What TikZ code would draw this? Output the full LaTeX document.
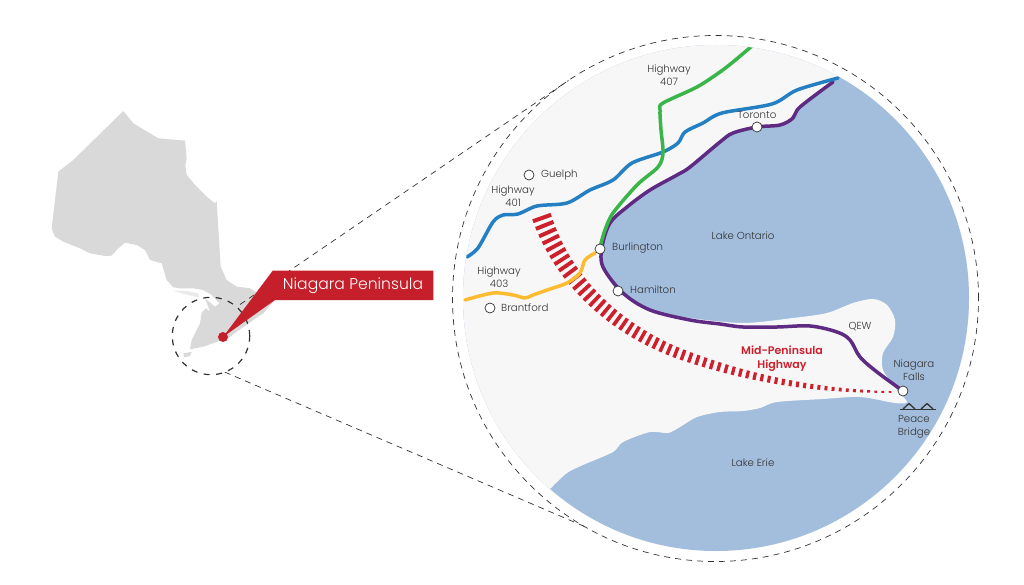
\documentclass[tikz,border=0pt]{standalone}
\usepackage{fontspec}
\setmainfont{Poppins}[UprightFont=* Light,BoldFont=* SemiBold]
\usetikzlibrary{calc}
\definecolor{mapgray}{HTML}{D9D9D9}
\definecolor{maplight}{HTML}{EAEAEA}
\definecolor{lake}{HTML}{A3BEDD}
\definecolor{land}{HTML}{F7F7F7}
\definecolor{hred}{HTML}{C41F2B}
\definecolor{stripe}{HTML}{CE1F2D}
\definecolor{hgreen}{HTML}{3AB54A}
\definecolor{hblue}{HTML}{2480C3}
\definecolor{hpurple}{HTML}{5E2A82}
\definecolor{hyellow}{HTML}{FDBB30}
\definecolor{txt}{HTML}{333333}
\definecolor{dashc}{HTML}{333333}
\tikzset{
  road/.style={line width=3.5pt,line join=round,line cap=round},
  lbl/.style={font=\fontsize{10.2}{12.8}\selectfont,text=txt,align=center,inner sep=0pt},
  city/.style={circle,draw=txt,fill=white,line width=.7pt,minimum size=10pt,inner sep=0pt},
  dashline/.style={draw=dashc,line width=.7pt,dash pattern=on 6pt off 5pt},
}
\newcommand{\stripebar}[1]{%
  \pgfmathsetmacro{\frc}{max(0,1-(#1)/432)}%
  \pgfmathsetmacro{\hw}{9.3*\frc+.35}%
  \pgfmathsetmacro{\ht}{1.3*\frc+2.7}%
  \draw[stripe,line width=\ht pt] ($(a)!\hw pt!90:(b)$) -- ($(a)!\hw pt!-90:(b)$);}
\begin{document}
\begin{tikzpicture}[x=1pt,y=-1pt]
\useasboundingbox (0,0) rectangle (1024,585);
\fill[white] (0,0) rectangle (1024,585);
% Ontario
\begin{scope}[shift={(30,90)},scale=1/3]
\fill[mapgray] (280,63)--(310,100)--(330,112)--(385,145)--(465,152)--(470,205)--(466,225)--(470,255)--(500,290)--(530,320)--(555,340)--(560,332)--(572,530)--(590,570)--(620,590)--(660,595)--(675,605)--(735,630)--(700,670)--(670,690)--(620,725)--(595,745)--(570,752)--(520,770)--(480,778)--(485,750)--(510,700)--(515,668)--(528,655)--(540,665)--(525,625)--(555,650)--(568,640)--(545,615)--(520,600)--(490,595)--(450,595)--(430,592)--(410,570)--(395,520)--(360,510)--(345,480)--(320,465)--(285,458)--(265,475)--(245,497)--(225,498)--(180,490)--(150,475)--(100,455)--(75,440)--(65,415)--(85,245)--(130,210)--cycle;
\fill[mapgray] (460,790)--(485,786)--(480,798)--(462,802)--cycle;
\fill[maplight] (430,603)--(470,603)--(505,610)--(507,622)--(470,614)--cycle;
\end{scope}
% Circles
\node[circle,draw=none,fill=land,minimum size=506pt,inner sep=0pt,outer sep=0pt] (disk) at (716,298) {};
\begin{scope}
\clip (716,298) circle (253);
\fill[lake] (716,298) circle (254);
\fill[land] plot[smooth,tension=.5] coordinates {(842,72)(833,82)(800,107)(793,118)(780,125)(757,127)(733,133)(720,142)(690,167)(677,175)(650,190)(627,207)(610,223)(602,247)(603,267)(617,290)(650,310)(690,318)(743,323)(793,318)(827,313)(853,303)(873,299)(887,305)(895,320)(893,337)(883,353)(883,370)(897,390)(907,402)(895,403)(860,397)(823,399)(777,402)(760,408)(743,411)(720,412)(697,417)(680,427)(668,433)(650,432)(623,442)(613,452)(583,465)(567,473)(551,488)(540,500)} -- (400,600) -- (400,-40) -- (842,-40) -- cycle;
% Mid-Peninsula stripes
\foreach \i in {0,...,26}{
  \pgfmathsetmacro{\tt}{(\i+.0)/27}
  \pgfmathsetmacro{\ttb}{\tt+.02}
  \path (542,218) .. controls (565,285) and (620,332) .. (683,355) coordinate[pos=\tt] (a) coordinate[pos=\ttb] (b);
  \stripebar{\i*7.4}
}
\foreach \i in {0,...,29}{
  \pgfmathsetmacro{\tt}{(\i+.0)/30}
  \pgfmathsetmacro{\ttb}{\tt+.02}
  \path (683,355) .. controls (755,381) and (826,392) .. (897,392) coordinate[pos=\tt] (a) coordinate[pos=\ttb] (b);
  \stripebar{200+\i*7.3}
}
\draw[road,hpurple] plot[smooth,tension=.55] coordinates {(903,391)(877,372)(860,357)(850,340)(837,332)(810,326)(777,327)(743,327)(720,324)(690,320)(650,310)(623,293)(603,267)(602,247)(610,223)(627,207)(650,190)(677,175)(690,167)(720,142)(733,133)(757,127)(780,125)(793,118)(800,107)(833,82)};
\draw[road,hblue] plot[smooth,tension=.5] coordinates {(467,257)(478,248)(493,222)(503,215)(518,214)(537,206)(567,203)(590,190)(613,180)(632,163)(663,152)(678,143)(685,132)(703,123)(722,113)(772,104)(797,90)(838,78)};
\draw[road,hgreen] plot[smooth,tension=.5] coordinates {(600,247)(605,230)(613,213)(637,185)(658,167)(663,153)(661,130)(660,110)(663,103)(697,87)(720,72)(733,62)(752,46)};
\draw[road,hyellow] plot[smooth,tension=.5] coordinates {(595,253)(585,260)(580,273)(567,283)(550,289)(533,295)(525,298)(513,295)(493,293)(465,300)};
\end{scope}
% Dashed circles and links
\node[circle,dashline,minimum size=77.4pt,inner sep=0pt,outer sep=0pt,line width=1.2pt,dash pattern=on 6pt off 6.5pt] (small) at (211,336) {};
\node[circle,dashline,minimum size=526pt,inner sep=0pt,outer sep=0pt] (big) at (715.5,298.5) {};
\coordinate (upstart) at (240,304.5);
\draw[dashline] (upstart) -- (big.124.6);
\draw[dashline] (small.-69) -- (big.240);
% Callout
\node[circle,fill=hred,minimum size=10pt,inner sep=0pt] (pin) at (223,337) {};
\fill[hred] (pin.center) -- (272.7,270.7) -- (433.3,270.7) -- (433.3,300) -- (275,300) -- cycle;
\node[font=\fontsize{15.6}{18}\selectfont,text=white,inner sep=0pt] (np) at (353,286) {Niagara Peninsula};
% Cities
\node[city] (guelph) at (529,175) {};
\node[city] (burl) at (600,249) {};
\node[city] (ham) at (618,291) {};
\node[city] (tor) at (757,127) {};
\node[city] (nf) at (903,391) {};
\node[city] (brant) at (490,308) {};
\node[lbl,anchor=west] at (541,175) {Guelph};
\node[lbl,anchor=west] at (612,248) {Burlington};
\node[lbl,anchor=west] at (630,290) {Hamilton};
\node[lbl,anchor=west] at (501,308) {Brantford};
\node[lbl] at (757,115) {Toronto};
\node[lbl] at (513,196) {Highway\\401};
\node[lbl] at (669,75) {Highway\\407};
\node[lbl] at (499,277) {Highway\\403};
\node[lbl] at (743,236) {Lake Ontario};
\node[lbl] at (753,463) {Lake Erie};
\node[lbl] at (860,327) {QEW};
\node[lbl] at (914,370) {Niagara\\Falls};
\node[lbl] at (914,427) {Peace\\Bridge};
\node[lbl,font=\fontsize{11}{14.5}\selectfont\bfseries,text=stripe] at (782,358.5) {Mid-Peninsula\\Highway};
% Bridge
\draw[txt,line width=1.6pt,line join=round] (900,409.5) -- (936,409.5);
\draw[txt,line width=1.3pt,line join=round] (903,409) -- (909,403.5) -- (915,409) (921,409) -- (927,403.5) -- (933,409);
\end{tikzpicture}
\end{document}
